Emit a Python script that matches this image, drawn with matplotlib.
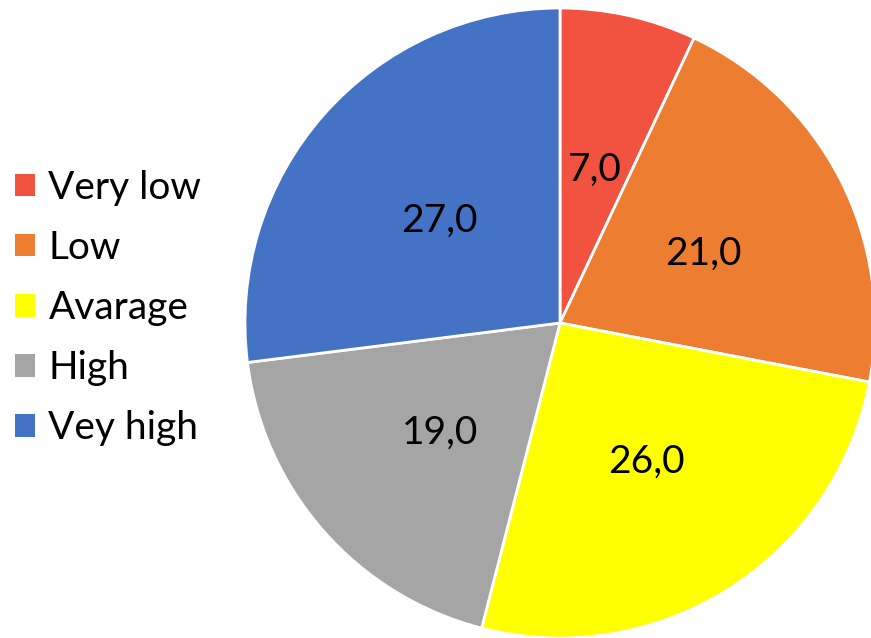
import matplotlib.pyplot as plt
from matplotlib.patches import Patch

labels = ['Very low', 'Low', 'Avarage', 'High', 'Vey high']
values = [7.0, 21.0, 26.0, 19.0, 27.0]
colors = ['#F25240', '#ED7D31', '#FFFF00', '#A5A5A5', '#4472C4']

plt.rcParams['font.family'] = ['Lato', 'DejaVu Sans']

fig = plt.figure(figsize=(8.71, 6.38), dpi=100)
ax = fig.add_axes([245/871, 0, 630/871, 630/638])
wedges, texts = ax.pie(values, colors=colors, startangle=90, counterclock=False,
                       labels=[f'{v:.1f}'.replace('.', ',') for v in values],
                       labeldistance=0.51,
                       wedgeprops=dict(edgecolor='white', linewidth=2))
for t in texts:
    t.set_fontsize(28)
    t.set_ha('center')
    t.set_va('center_baseline')
ax.set_xlim(-1, 1)
ax.set_ylim(-1, 1)
ax.set_aspect('equal')

handles = [Patch(facecolor=c, edgecolor='none') for c in colors]
fig.legend(handles, labels, loc='center left', bbox_to_anchor=(15/871, 0.517),
           frameon=False, fontsize=28, handlelength=0.51, handleheight=0.51,
           handletextpad=0.35, labelspacing=0.62, borderaxespad=0, borderpad=0)

fig.savefig('out.png', dpi=100)
